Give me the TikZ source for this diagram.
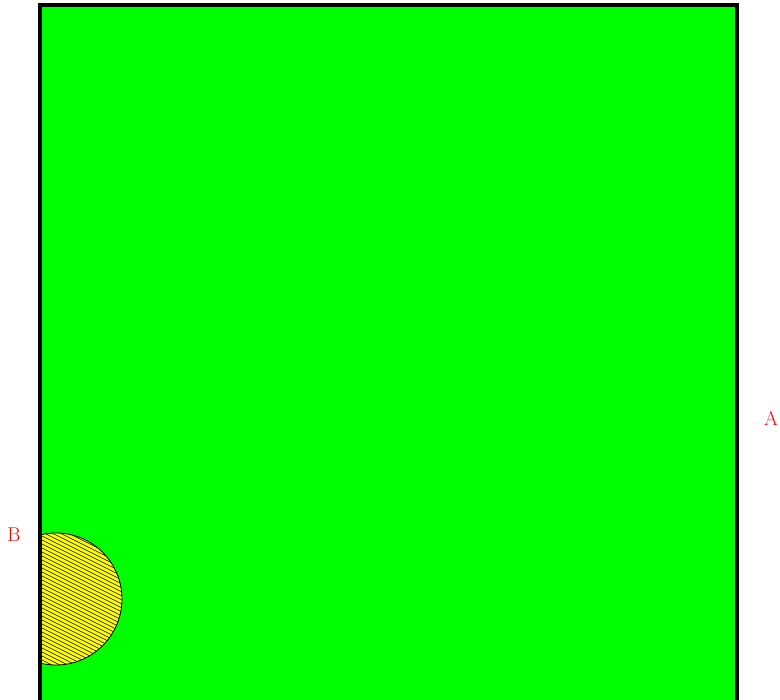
\documentclass[tikz,border=0pt]{standalone}
\usepackage{tikz}
\usetikzlibrary{positioning}
\definecolor{plategreen}{RGB}{0,255,0}
\definecolor{spotyellow}{RGB}{255,255,0}
\tikzset{
  tag/.style={text=red, inner sep=0pt, font=\fontsize{20}{24}\selectfont},
  hatch/.style={line width=0.6pt, color=black}
}
\begin{document}
\begin{tikzpicture}[x=1pt,y=1pt,yscale=-1]

\useasboundingbox (0,0) rectangle (780,700);

% plate
\coordinate (plateNW) at (40,5);
\coordinate (plateSE) at (737,702);
\fill [plategreen] (plateNW) rectangle (plateSE);

% hatched spot on the left edge
\coordinate (spot) at (56,599);
\begin{scope}
\clip (plateNW) rectangle (plateSE);
\fill [spotyellow] (spot) circle (66);
\begin{scope}
\clip (spot) circle (66);
\foreach \k in {-25,...,25}
  \draw [hatch] (-14,{564+4*\k}) -- ++(140,70);
\end{scope}
\draw [line width=0.8pt] (spot) circle (66);
\end{scope}

% border
\draw [line width=4pt] (plateNW) rectangle (plateSE);

% Text Node
\node [tag] (labelA) at (771,418) {A};
% Text Node
\node [tag] (labelB) at (14,535) {B};

\end{tikzpicture}
\end{document}
